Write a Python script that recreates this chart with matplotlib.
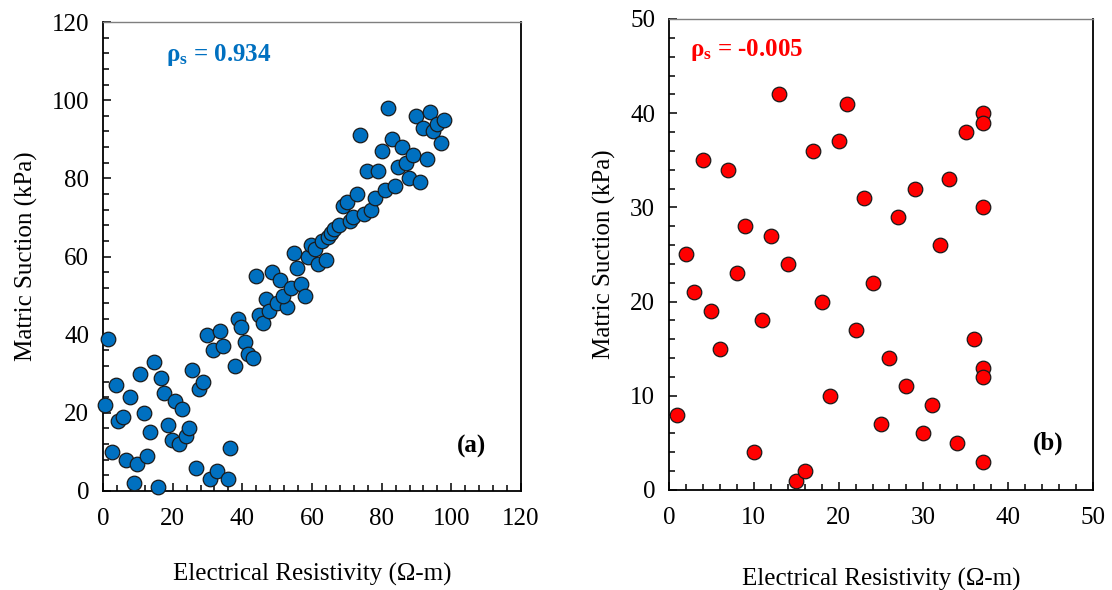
import matplotlib
matplotlib.use("Agg")
import matplotlib.pyplot as plt
from matplotlib.ticker import MultipleLocator

plt.rcParams['font.family'] = ['Liberation Serif', 'DejaVu Serif']
plt.rcParams['mathtext.fontset'] = 'custom'
plt.rcParams['mathtext.rm'] = 'Liberation Serif:bold'
plt.rcParams['mathtext.it'] = 'Liberation Serif:bold'
plt.rcParams['mathtext.bf'] = 'Liberation Serif:bold'

# panel (a): resistivity vs suction, strong correlation
res_a = [1.5, 0.5, 3.6, 7.7, 4.4, 5.8, 2.7, 6.7, 9.8, 8.8, 10.7, 11.7, 12.6, 13.6, 14.6,
         15.8, 16.7, 17.6, 18.7, 19.7, 20.7, 21.9, 22.8, 23.7, 24.8, 25.6, 26.7, 27.7, 28.7,
         29.8, 30.7, 31.7, 32.8, 33.7, 34.6, 35.8, 36.6, 37.8, 38.7, 39.7, 40.8, 41.7, 43.0,
         43.8, 44.8, 45.9, 46.7, 47.7, 48.4, 50.8, 49.9, 52.9, 51.8, 53.9, 54.8, 55.8, 56.8,
         57.9, 58.9, 59.8, 60.9, 61.8, 62.8, 63.9, 64.7, 65.5, 66.4, 67.8, 68.8, 70.0, 70.9,
         71.9, 72.8, 73.8, 74.9, 75.9, 77.0, 78.1, 79.0, 80.0, 81.0, 81.9, 82.9, 83.9, 84.7,
         85.9, 86.9, 87.9, 88.9, 89.9, 91.0, 91.8, 92.9, 93.9, 94.8, 95.8, 97.0, 97.9]
suc_a = [39, 22, 27, 24, 18, 19, 10, 8, 7, 2, 30, 20, 9, 15, 33,
         1, 29, 25, 17, 13, 23, 12, 21, 14, 16, 31, 6, 26, 28,
         40, 3, 36, 5, 41, 37, 3, 11, 32, 44, 42, 38, 35, 34,
         55, 45, 43, 49, 46, 56, 54, 48, 47, 50, 52, 61, 57, 53,
         50, 60, 63, 62, 58, 64, 59, 65, 66, 67, 68, 73, 74, 69,
         70, 76, 91, 71, 82, 72, 75, 82, 87, 77, 98, 90, 78, 83,
         88, 84, 80, 86, 96, 79, 93, 85, 97, 92, 94, 89, 95]

# panel (b): no correlation
res_b = [1, 2, 3, 4, 5, 6, 7, 8, 9, 10, 11, 12, 13, 14, 15, 16, 17, 18, 19, 20, 21,
         22, 23, 24, 25, 26, 27, 28, 29, 30, 31, 32, 33, 34, 35, 36, 37, 37, 37, 37, 37, 37]
suc_b = [8, 25, 21, 35, 19, 15, 34, 23, 28, 4, 18, 27, 42, 24, 1, 2, 36, 20, 10, 37, 41,
         17, 31, 22, 7, 14, 29, 11, 32, 6, 9, 26, 33, 5, 38, 16, 40, 39, 30, 13, 12, 3]

fig = plt.figure(figsize=(11.12, 5.90), dpi=100)
ax1 = fig.add_axes([0.0926, 0.1678, 0.3759, 0.7949])
ax2 = fig.add_axes([0.6016, 0.1695, 0.3813, 0.7983])


def style_axes(ax, lim, major, minor, xpad):
    ax.set_xlim(0, lim)
    ax.set_ylim(0, lim)
    ax.xaxis.set_major_locator(MultipleLocator(major))
    ax.yaxis.set_major_locator(MultipleLocator(major))
    ax.xaxis.set_minor_locator(MultipleLocator(minor))
    ax.yaxis.set_minor_locator(MultipleLocator(minor))
    ax.tick_params(which='both', direction='in', top=False, right=False, labelsize=18, width=1.1)
    ax.tick_params(axis='x', which='major', length=6, pad=12)
    ax.tick_params(axis='y', which='major', length=6, pad=10)
    ax.tick_params(which='minor', length=4)
    ax.spines['top'].set_color('#7f7f7f')
    ax.spines['top'].set_linewidth(1.0)
    for s in ['left', 'bottom', 'right']:
        ax.spines[s].set_color('black')
        ax.spines[s].set_linewidth(1.3)
    ax.set_xlabel('Electrical Resistivity (Ω-m)', fontsize=18, labelpad=xpad)
    ax.set_ylabel('Matric Suction (kPa)', fontsize=18, labelpad=10)


ax1.scatter(res_a, suc_a, s=110, color='#0070C0', edgecolors='#1a1a1a', linewidths=0.9,
            zorder=3, clip_on=False)
style_axes(ax1, 120, 20, 4, 24)
ax1.text(0.15, 0.93, r'$\rho_s$ = 0.934', transform=ax1.transAxes, color='#0070C0',
         fontsize=18, fontweight='bold', va='center')
ax1.text(0.882, 0.095, '(a)', transform=ax1.transAxes, fontsize=18, fontweight='bold',
         ha='center', va='center')

ax2.scatter(res_b, suc_b, s=110, color='#FF0000', edgecolors='#1a1a1a', linewidths=0.9,
            zorder=3, clip_on=False)
style_axes(ax2, 50, 10, 2, 28)
ax2.text(0.05, 0.935, r'$\rho_s$ = -0.005', transform=ax2.transAxes, color='#FF0000',
         fontsize=18, fontweight='bold', va='center')
ax2.text(0.895, 0.1, '(b)', transform=ax2.transAxes, fontsize=18, fontweight='bold',
         ha='center', va='center')

fig.savefig('out.png', dpi=100)
